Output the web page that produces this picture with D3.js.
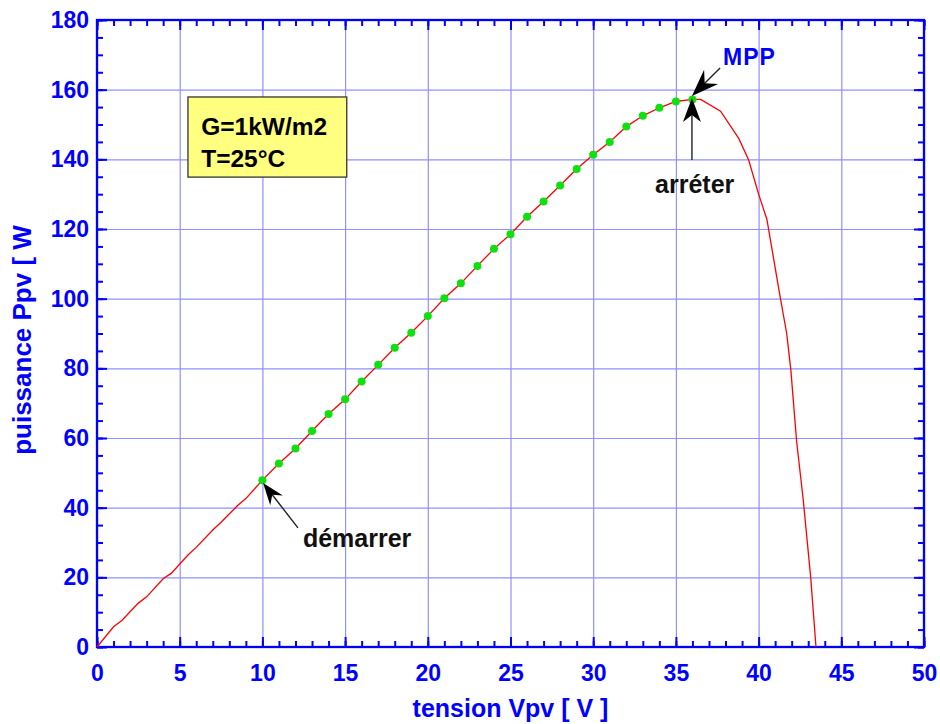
<!DOCTYPE html>
<html>
<head>
<meta charset="utf-8">
<script src="https://cdn.jsdelivr.net/npm/d3@7/dist/d3.min.js"></script>
<style>
  body { margin: 0; background: #fff; }
  svg { display: block; font-family: "Liberation Sans", Arial, sans-serif; font-weight: bold; }
</style>
</head>
<body>
<div id="chart"></div>
<script>
// P-V curve of the panel (red line)
const curveV = [0, 1, 1.5, 2.5, 3, 4, 4.5, 5.5, 6, 7, 7.5, 8.5, 9, 10,
  11, 12, 13, 14, 15, 16, 17, 18, 19, 20, 21, 22, 23, 24, 25, 26, 27, 28, 29, 30,
  31, 32, 33, 34, 35, 36, 36.5, 37.7, 38.8, 39.4, 40, 40.5, 41.3, 41.7, 41.95, 42.3, 42.7, 43.15, 43.47];
const curveP = [0, 5.8, 7.6, 12.6, 14.4, 19.6, 21.2, 26.4, 28.6, 33.6, 35.8, 40.6, 42.6, 47.9,
  52.7, 57.0, 62.0, 66.9, 71.1, 76.2, 81.0, 85.9, 90.2, 95.0, 100.1, 104.4, 109.4, 114.3, 118.5, 123.5, 127.9, 132.5, 137.2, 141.3,
  145.0, 149.4, 152.5, 154.8, 156.6, 157.2, 157.2, 153.8, 146.0, 139.8, 130.0, 122.8, 100.6, 90.0, 79.5, 59.0, 42.2, 20.0, 0];

// MPPT operating points (green dots)
const dotV = [10, 11, 12, 13, 14, 15, 16, 17, 18, 19, 20, 21, 22, 23, 24, 25, 26, 27, 28, 29, 30, 31, 32, 33, 34, 35, 36];
const dotP = [47.9, 52.7, 57.0, 62.0, 66.9, 71.1, 76.2, 81.0, 85.9, 90.2, 95.0, 100.1, 104.4, 109.4, 114.3, 118.5,
  123.5, 127.9, 132.5, 137.2, 141.3, 145.0, 149.4, 152.5, 154.8, 156.6, 157.2];

const xTicks = [0, 5, 10, 15, 20, 25, 30, 35, 40, 45, 50];
const yTicks = [0, 20, 40, 60, 80, 100, 120, 140, 160, 180];

const width = 940, height = 724;
const blue = '#0000ff';

const x = d3.scaleLinear().domain([0, 50]).range([97, 924]);
const y = d3.scaleLinear().domain([0, 180]).range([647, 20]);

const svg = d3.select('#chart').append('svg')
  .attr('width', width)
  .attr('height', height);

// grid
svg.append('g')
  .attr('transform', `translate(0,${y(0)})`)
  .call(d3.axisBottom(x).tickValues(xTicks).tickSize(-(y(0) - y(180))).tickFormat(''))
  .call(g => g.select('.domain').remove());
svg.append('g')
  .attr('transform', `translate(${x(0)},0)`)
  .call(d3.axisLeft(y).tickValues(yTicks).tickSize(-(x(50) - x(0))).tickFormat(''))
  .call(g => g.select('.domain').remove());
svg.selectAll('.tick line')
  .attr('stroke', '#9090ff')
  .attr('stroke-width', 1.2);

// axes, ticks pointing inside on all four sides
const styleAxis = (g) => {
  g.select('.domain').remove();
  g.selectAll('.tick line').attr('stroke', blue).attr('stroke-width', 2);
  g.selectAll('.tick text')
    .attr('fill', blue)
    .style('font-size', '23px')
    .style('font-family', '"Liberation Sans", Arial, sans-serif')
    .style('font-weight', 'bold');
};

svg.append('g').attr('transform', `translate(0,${y(0)})`)
  .call(d3.axisBottom(x).ticks(50).tickSize(-6).tickFormat('')).call(styleAxis);
svg.append('g').attr('transform', `translate(0,${y(0)})`)
  .call(d3.axisBottom(x).tickValues(xTicks).tickSizeInner(-10).tickSizeOuter(0).tickPadding(18)).call(styleAxis);
svg.append('g').attr('transform', `translate(0,${y(180)})`)
  .call(d3.axisTop(x).ticks(50).tickSize(-6).tickFormat('')).call(styleAxis);
svg.append('g').attr('transform', `translate(0,${y(180)})`)
  .call(d3.axisTop(x).tickValues(xTicks).tickSize(-10).tickFormat('')).call(styleAxis);

svg.append('g').attr('transform', `translate(${x(0)},0)`)
  .call(d3.axisLeft(y).ticks(36).tickSize(-6).tickFormat('')).call(styleAxis);
svg.append('g').attr('transform', `translate(${x(0)},0)`)
  .call(d3.axisLeft(y).tickValues(yTicks).tickSizeInner(-10).tickSizeOuter(0).tickPadding(8)).call(styleAxis);
svg.append('g').attr('transform', `translate(${x(50)},0)`)
  .call(d3.axisRight(y).ticks(36).tickSize(-6).tickFormat('')).call(styleAxis);
svg.append('g').attr('transform', `translate(${x(50)},0)`)
  .call(d3.axisRight(y).tickValues(yTicks).tickSize(-10).tickFormat('')).call(styleAxis);

// frame
svg.append('rect')
  .attr('x', x(0))
  .attr('y', y(180))
  .attr('width', x(50) - x(0))
  .attr('height', y(0) - y(180))
  .attr('fill', 'none')
  .attr('stroke', blue)
  .attr('stroke-width', 2.3);

// axis titles
svg.append('text')
  .attr('x', (x(0) + x(50)) / 2)
  .attr('y', 717)
  .attr('text-anchor', 'middle')
  .attr('fill', blue)
  .style('font-size', '25px')
  .text('tension Vpv [ V ]');

svg.append('text')
  .attr('transform', `translate(31,340) rotate(-90)`)
  .attr('text-anchor', 'middle')
  .attr('fill', blue)
  .style('font-size', '26px')
  .text('puissance Ppv [ W');

// P-V curve
const points = curveV.map((v, i) => [v, curveP[i]]);
svg.append('path')
  .datum(points)
  .attr('fill', 'none')
  .attr('stroke', '#ff0000')
  .attr('stroke-width', 1.3)
  .attr('d', d3.line().x(d => x(d[0])).y(d => y(d[1])));

svg.selectAll('circle.mppt')
  .data(dotV.map((v, i) => [v, dotP[i]]))
  .enter().append('circle')
  .attr('class', 'mppt')
  .attr('cx', d => x(d[0]))
  .attr('cy', d => y(d[1]))
  .attr('r', 4)
  .attr('fill', '#10e010');

// legend box
svg.append('rect')
  .attr('x', x(5.5))
  .attr('y', y(157.9))
  .attr('width', x(15.1) - x(5.5))
  .attr('height', y(134.9) - y(157.9))
  .attr('fill', '#ffff80')
  .attr('stroke', '#333')
  .attr('stroke-width', 1.3);

svg.append('text')
  .attr('x', x(6.3))
  .attr('y', y(147))
  .attr('fill', '#000')
  .style('font-size', '24.5px')
  .text('G=1kW/m2');
svg.append('text')
  .attr('x', x(6.3))
  .attr('y', y(137.8))
  .attr('fill', '#000')
  .style('font-size', '24.5px')
  .text('T=25°C');

// arrows
const arrow = (tip, tail, len, half, notch) => {
  const tx = x(tip[0]), ty = y(tip[1]);
  const bx = x(tail[0]), by = y(tail[1]);
  const d = Math.hypot(bx - tx, by - ty);
  const ux = (bx - tx) / d, uy = (by - ty) / d;
  const nx = -uy, ny = ux;
  const head = [
    [tx, ty],
    [tx + ux * len + nx * half, ty + uy * len + ny * half],
    [tx + ux * (len - notch), ty + uy * (len - notch)],
    [tx + ux * len - nx * half, ty + uy * len - ny * half]
  ];
  svg.append('line')
    .attr('x1', bx).attr('y1', by)
    .attr('x2', tx + ux * (len - notch)).attr('y2', ty + uy * (len - notch))
    .attr('stroke', '#222')
    .attr('stroke-width', 1.4);
  svg.append('path')
    .attr('d', 'M' + head.join('L') + 'Z')
    .attr('fill', '#000');
};

arrow([10.04, 47.1], [12.15, 34.2], 22, 8, 7);
arrow([35.97, 157.6], [35.97, 139.8], 24, 9, 7);
arrow([35.97, 158.2], [37.67, 166.2], 27, 10, 9);

svg.append('text')
  .attr('x', x(12.45))
  .attr('y', y(28.7))
  .attr('fill', '#111')
  .style('font-size', '25px')
  .text('démarrer');
svg.append('text')
  .attr('x', x(33.74))
  .attr('y', y(130.3))
  .attr('fill', '#111')
  .style('font-size', '25px')
  .text('arréter');
svg.append('text')
  .attr('x', x(37.85))
  .attr('y', y(167.1))
  .attr('fill', blue)
  .style('font-size', '23px')
  .style('letter-spacing', '1px')
  .text('MPP');
</script>
</body>
</html>
